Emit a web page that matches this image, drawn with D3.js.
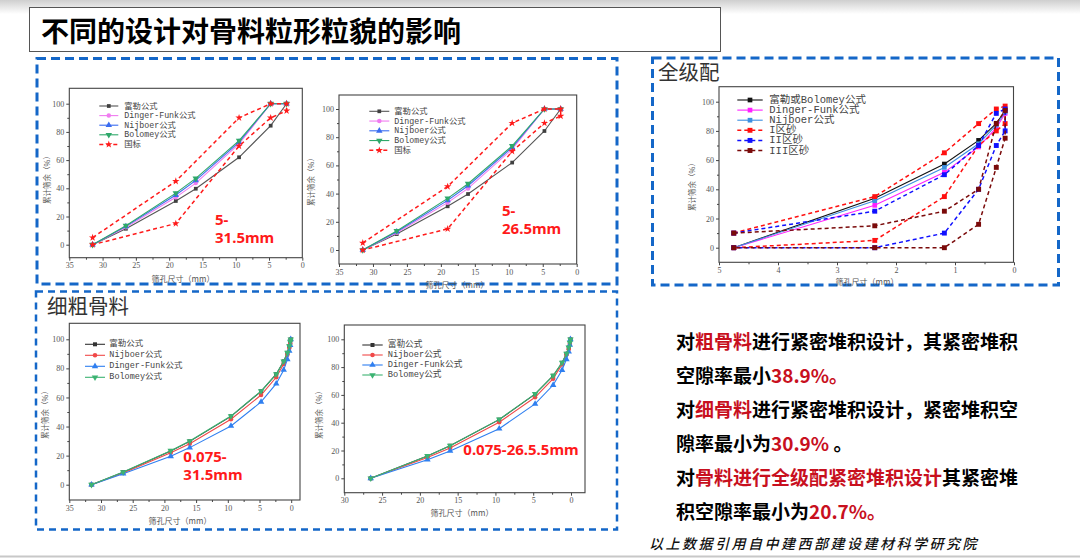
<!DOCTYPE html>
<html><head><meta charset="utf-8">
<script src="https://cdn.jsdelivr.net/npm/d3@7"></script>
<style>body{margin:0;background:#fff} svg{display:block}</style>
</head><body><svg id="c" width="1080" height="558"></svg>
<script>
// ---------------- DATA ----------------
// 粗骨料 5-31.5 / 5-26.5 mm (same values in both panels)
const sieveCoarse = [31.5, 26.5, 19, 16, 9.5, 4.75, 2.36];
const coarseFuller = [0, 11.3, 31, 39.7, 62, 84.4, 100];
const coarseDinger = [0, 12.3, 33.6, 43.7, 71.5, 100, 100];
const coarseNijboer = [0, 13, 35.2, 45.6, 72.8, 100, 100];
const coarseBolomey = [0, 13.5, 36.6, 47, 73.8, 100, 100];
const gbSieve = [31.5, 19, 9.5, 4.75, 2.36, 2.36, 4.75, 9.5, 19, 31.5];
const gbLimits = [5, 45, 90, 100, 100, 95, 90, 70, 15, 0];

// 全级配 (细骨料)
const sieveSand = [4.75, 2.36, 1.18, 0.6, 0.3, 0.15];
const sandFullerBolomey = [0, 33.8, 57.3, 73.5, 85.2, 93.8];
const sandDinger = [0, 29, 51.6, 69, 82, 92];
const sandNijboer = [0, 32.2, 55, 71.2, 84, 93];
const zoneSieve = [4.75, 2.36, 1.18, 0.6, 0.3, 0.15, 0.15, 0.3, 0.6, 1.18, 2.36, 4.75];
const zone1 = [10, 35, 65, 85, 95, 97, 85, 80, 70, 35, 5, 0];
const zone2 = [10, 25, 50, 70, 92, 95, 80, 70, 40, 10, 0, 0];
const zone3 = [10, 15, 25, 40, 85, 94, 75, 55, 16, 0, 0, 0];

// 细粗骨料 0.075-31.5 mm
const sieve315 = [31.5, 26.5, 19, 16, 9.5, 4.75, 2.36, 1.18, 0.6, 0.3, 0.15, 0.075];
const mix315Fuller = [0, 8.6, 23.2, 29.8, 47, 64.2, 76, 84.8, 90.7, 95.3, 98.3, 100];
const mix315Nijboer = [0, 8, 22, 28.2, 45, 61.7, 73.9, 83, 89.4, 94, 97, 100];
const mix315Dinger = [0, 7.6, 19.5, 25.5, 40.4, 56.9, 69.5, 78.9, 86.2, 92, 96, 100];
const mix315Bolomey = [0, 8.7, 23.4, 30, 47.2, 64.4, 76.1, 84.9, 90.8, 95.4, 98.4, 100];

// 细粗骨料 0.075-26.5 mm
const sieve265 = [26.5, 19, 16, 9.5, 4.75, 2.36, 1.18, 0.6, 0.3, 0.15, 0.075];
const mix265Fuller = [0, 16, 23.4, 42.2, 60.5, 73.8, 83.1, 89.6, 94.1, 97.5, 100];
const mix265Nijboer = [0, 14.9, 21.8, 40.3, 58.3, 71.7, 81.8, 89, 92.8, 96.6, 100];
const mix265Dinger = [0, 13.4, 19.7, 35.7, 53.5, 67.1, 77.9, 85.6, 91.1, 95.9, 100];
const mix265Bolomey = [0, 16.1, 23.5, 42.4, 60.7, 73.9, 83.2, 89.7, 94.2, 97.6, 100];

// ticks
const ticksX35 = [35, 30, 25, 20, 15, 10, 5, 0];
const ticksX30 = [30, 25, 20, 15, 10, 5, 0];
const ticksX5 = [5, 4, 3, 2, 1, 0];
const ticksY = [0, 20, 40, 60, 80, 100];

// legend names
const namesCoarse = ["富勒公式", "Dinger-Funk公式", "Nijboer公式", "Bolomey公式", "国标"];
const namesSand = ["富勒或Bolomey公式", "Dinger-Funk公式", "Nijboer公式", "I区砂", "II区砂", "III区砂"];
const namesMix = ["富勒公式", "Nijboer公式", "Dinger-Funk公式", "Bolomey公式"];

// ---------------- DRAW ----------------
const svg = d3.select("#c");
const defs = svg.append("defs");
const grad = defs.append("linearGradient").attr("id","hg").attr("x1",0).attr("y1",0).attr("x2",0).attr("y2",1);
grad.append("stop").attr("offset","0%").attr("stop-color","#cfcfcf");
grad.append("stop").attr("offset","100%").attr("stop-color","#ffffff");
svg.append("rect").attr("x",0).attr("y",0).attr("width",1080).attr("height",14).attr("fill","url(#hg)");

// title
svg.append("rect").attr("x",29.5).attr("y",7.5).attr("width",691).attr("height",44)
  .attr("fill","#fff").attr("stroke","#555").attr("stroke-width",1);
svg.append("text").attr("x",41).attr("y",30).attr("dominant-baseline","central")
  .attr("font-family","'Noto Sans CJK SC'").attr("font-weight",700).attr("font-size",28)
  .attr("fill","#000").text("不同的设计对骨料粒形粒貌的影响");

// dashed boxes
function dbox(x0,y0,x1,y1,w,dash){
  svg.append("rect").attr("x",x0).attr("y",y0).attr("width",x1-x0).attr("height",y1-y0)
    .attr("fill","none").attr("stroke","#1467c8").attr("stroke-width",w).attr("stroke-dasharray",dash);
}
dbox(37,58.5,617,284,3,"9,5");
dbox(652.5,58,1058.5,285,3,"9,5");
dbox(36,291.5,617,529.5,2.5,"7,5");

svg.append("text").attr("x",658).attr("y",71).attr("dominant-baseline","central")
  .attr("font-family","'Noto Sans CJK SC'").attr("font-size",20.5).attr("fill","#333").text("全级配");
svg.append("text").attr("x",47).attr("y",305).attr("dominant-baseline","central")
  .attr("font-family","'Noto Sans CJK SC'").attr("font-size",20.5).attr("fill","#333").text("细粗骨料");

const symDown = { draw(ctx, size){ const s=Math.sqrt(size/ (Math.sqrt(3)/4)) ; const h=s*Math.sqrt(3)/2;
  ctx.moveTo(-s/2,-h/3); ctx.lineTo(s/2,-h/3); ctx.lineTo(0,2*h/3); ctx.closePath(); } };
const symUp = { draw(ctx, size){ const s=Math.sqrt(size/ (Math.sqrt(3)/4)) ; const h=s*Math.sqrt(3)/2;
  ctx.moveTo(-s/2,h/3); ctx.lineTo(s/2,h/3); ctx.lineTo(0,-2*h/3); ctx.closePath(); } };

function chart(cfg){
  const g = svg.append("g");
  const x = d3.scaleLinear().domain(cfg.xRef).range(cfg.xPx);
  const y = d3.scaleLinear().domain([0,100]).range(cfg.yPx);
  const [bx0,by0,bx1,by1] = cfg.box;
  // axes
  const ax = g.append("g").attr("transform",`translate(0,${by1})`)
    .call(d3.axisBottom(x).tickValues(cfg.xTicks).tickSize(3).tickPadding(2).tickFormat(d3.format("")));
  ax.select(".domain").remove();
  const mx = [];
  for(let i=0;i<cfg.xTicks.length-1;i++) mx.push((cfg.xTicks[i]+cfg.xTicks[i+1])/2);
  g.append("g").attr("transform",`translate(0,${by1})`)
    .call(d3.axisBottom(x).tickValues(mx).tickSize(2).tickFormat("")).select(".domain").remove();
  const ay = g.append("g").attr("transform",`translate(${bx0},0)`)
    .call(d3.axisLeft(y).tickValues(ticksY).tickSize(3).tickPadding(2));
  ay.select(".domain").remove();
  g.append("g").attr("transform",`translate(${bx0},0)`)
    .call(d3.axisLeft(y).tickValues([10,30,50,70,90]).tickSize(2).tickFormat("")).select(".domain").remove();
  g.selectAll(".tick line").attr("stroke","#444");
  g.selectAll(".tick text").attr("font-family","'Liberation Serif'").attr("font-size",cfg.tickFs||8).attr("fill","#555");
  g.append("rect").attr("x",bx0).attr("y",by0).attr("width",bx1-bx0).attr("height",by1-by0)
    .attr("fill","none").attr("stroke","#444").attr("stroke-width",1.1);
  // axis titles
  g.append("text").attr("transform",`translate(${cfg.yLab[0]},${cfg.yLab[1]}) rotate(-90)`)
    .attr("text-anchor","middle").attr("dominant-baseline","central")
    .attr("font-family","'Noto Sans CJK SC'").attr("font-size",7.5).attr("fill","#555").text("累计筛余（%）");
  g.append("text").attr("x",cfg.xLab[0]).attr("y",cfg.xLab[1])
    .attr("text-anchor","middle").attr("dominant-baseline","central")
    .attr("font-family","'Noto Sans CJK SC'").attr("font-size",8).attr("fill","#555").text("筛孔尺寸（mm）");
  // series
  const line = d3.line().x(d=>x(d[0])).y(d=>y(d[1]));
  cfg.series.forEach(s=>{
    const pts = s.xs.map((v,i)=>[v,s.ys[i]]);
    g.append("path").attr("d",line(pts)).attr("fill","none").attr("stroke",s.color)
      .attr("stroke-width",s.dash?1.5:1.1).attr("stroke-dasharray",s.dash?"4,3":null);
    g.selectAll(null).data(pts).enter().append("path")
      .attr("transform",d=>`translate(${x(d[0])},${y(d[1])})`)
      .attr("d",d3.symbol().type(s.sym).size(s.size||16)).attr("fill",s.mcolor||s.color);
  });
  // legend
  const L = cfg.legend;
  cfg.series.forEach((s,i)=>{
    const ly = L.y0 + i*L.dy;
    g.append("line").attr("x1",L.x[0]).attr("x2",L.x[1]).attr("y1",ly).attr("y2",ly)
      .attr("stroke",s.color).attr("stroke-width",s.dash?1.5:1.1).attr("stroke-dasharray",s.dash?"4,3":null);
    g.append("path").attr("transform",`translate(${(L.x[0]+L.x[1])/2},${ly})`)
      .attr("d",d3.symbol().type(s.sym).size(s.size||16)).attr("fill",s.mcolor||s.color);
    g.append("text").attr("x",L.tx).attr("y",ly).attr("dominant-baseline","central")
      .attr("font-family","'Liberation Mono','Noto Sans CJK SC'").attr("font-size",L.fs).attr("fill","#444")
      .text(s.name);
  });
  // annotation
  (cfg.notes||[]).forEach(n=>{
    g.append("text").attr("x",n[0]).attr("y",n[1]).attr("dominant-baseline","central")
      .attr("font-family","'Noto Sans','Open Sans'").attr("font-weight",700).attr("font-size",15)
      .attr("fill","#ff1a1a").text(n[2]);
  });
}

const cGray="#404040", cPink="#f07cf0", cBlue="#3a6cf0", cGreen="#2fa86a", cRed="#ff1a1a";
const coarseSeries = [
  {name:namesCoarse[0], xs:sieveCoarse, ys:coarseFuller, color:"#555", mcolor:cGray, sym:d3.symbolSquare, size:14},
  {name:namesCoarse[1], xs:sieveCoarse, ys:coarseDinger, color:cPink, sym:d3.symbolCircle, size:16},
  {name:namesCoarse[2], xs:sieveCoarse, ys:coarseNijboer, color:cBlue, sym:symUp, size:18},
  {name:namesCoarse[3], xs:sieveCoarse, ys:coarseBolomey, color:cGreen, sym:symDown, size:18},
  {name:namesCoarse[4], xs:gbSieve, ys:gbLimits, color:cRed, sym:d3.symbolStar, size:17, dash:true}
];

chart({xRef:[35,0], xPx:[69.3,302.3], yPx:[244.7,103.7], box:[69.3,88.3,302.3,257.7], xTicks:ticksX35,
  yLab:[46,178], xLab:[183,278],
  series:coarseSeries,
  legend:{x:[99.3,118.3], tx:124.3, y0:106, dy:9.6, fs:8.3},
  notes:[[215,218.5,"5-"],[215,236.5,"31.5mm"]]});

chart({xRef:[35,0], xPx:[339,576.7], yPx:[250,109], box:[339,95,576.7,264], xTicks:ticksX35,
  yLab:[310,180], xLab:[457,284],
  series:coarseSeries,
  legend:{x:[369.3,389.3], tx:394.3, y0:111.3, dy:9.75, fs:8.3},
  notes:[[502,209.5,"5-"],[502,228,"26.5mm"]]});

chart({xRef:[5,0], xPx:[719,1014], yPx:[247.7,101.7], box:[719,86.7,1013.5,262.3], xTicks:ticksX5,
  yLab:[691,185], xLab:[867,281.5],
  series:[
    {name:namesSand[0], xs:sieveSand, ys:sandFullerBolomey, color:"#111", sym:d3.symbolSquare, size:22},
    {name:namesSand[1], xs:sieveSand, ys:sandDinger, color:"#ff20ff", sym:d3.symbolSquare, size:22},
    {name:namesSand[2], xs:sieveSand, ys:sandNijboer, color:"#3d8fe0", sym:d3.symbolSquare, size:22},
    {name:namesSand[3], xs:zoneSieve, ys:zone1, color:"#ff1010", sym:d3.symbolSquare, size:24, dash:true},
    {name:namesSand[4], xs:zoneSieve, ys:zone2, color:"#1010ff", sym:d3.symbolSquare, size:24, dash:true},
    {name:namesSand[5], xs:zoneSieve, ys:zone3, color:"#7a0a0a", sym:d3.symbolSquare, size:24, dash:true}
  ],
  legend:{x:[737.3,762.7], tx:769.3, y0:100, dy:10.1, fs:10.5}});

const mixColors = {fuller:"#333", nij:"#f04848", dinger:"#2f7ff0", bol:"#3cb372"};
chart({xRef:[35,0], xPx:[69.3,291.2], yPx:[484.7,339.3], box:[69.3,323.3,300,500], xTicks:ticksX35,
  yLab:[44,413], xLab:[180,520],
  series:[
    {name:namesMix[0], xs:sieve315, ys:mix315Fuller, color:mixColors.fuller, sym:d3.symbolSquare, size:16},
    {name:namesMix[1], xs:sieve315, ys:mix315Nijboer, color:mixColors.nij, sym:d3.symbolCircle, size:16},
    {name:namesMix[2], xs:sieve315, ys:mix315Dinger, color:mixColors.dinger, sym:symUp, size:18},
    {name:namesMix[3], xs:sieve315, ys:mix315Bolomey, color:mixColors.bol, sym:symDown, size:18}
  ],
  legend:{x:[85,105], tx:109.3, y0:344.3, dy:11, fs:8.5},
  notes:[[183.3,455.5,"0.075-"],[183.3,474,"31.5mm"]]});

chart({xRef:[30,0], xPx:[344.3,571], yPx:[478.3,339.3], box:[344.3,325,585,492.7], xTicks:ticksX30,
  yLab:[318.5,413], xLab:[462,512.5],
  series:[
    {name:namesMix[0], xs:sieve265, ys:mix265Fuller, color:mixColors.fuller, sym:d3.symbolSquare, size:16},
    {name:namesMix[1], xs:sieve265, ys:mix265Nijboer, color:mixColors.nij, sym:d3.symbolCircle, size:16},
    {name:namesMix[2], xs:sieve265, ys:mix265Dinger, color:mixColors.dinger, sym:symUp, size:18},
    {name:namesMix[3], xs:sieve265, ys:mix265Bolomey, color:mixColors.bol, sym:symDown, size:18}
  ],
  legend:{x:[362.3,382.7], tx:387.7, y0:345, dy:10, fs:8.7},
  notes:[[463.3,449.3,"0.075-26.5.5mm"]]});

// right side text
const RED="#c8101e";
const paras = [
  [["对","#000"],["粗骨料",RED],["进行紧密堆积设计，其紧密堆积","#000"]],
  [["空隙率最小","#000"],["38.9%。",RED]],
  [["对","#000"],["细骨料",RED],["进行紧密堆积设计，紧密堆积空","#000"]],
  [["隙率最小为","#000"],["30.9%",RED],[" 。","#000"]],
  [["对","#000"],["骨料进行全级配紧密堆积设计",RED],["其紧密堆","#000"]],
  [["积空隙率最小为","#000"],["20.7%。",RED]]
];
const lineY = [339.5, 373.5, 407.5, 441.5, 476, 509.5];
paras.forEach((p,i)=>{
  const t = svg.append("text").attr("x",676).attr("y",lineY[i]).attr("dominant-baseline","central")
    .attr("font-family","'Noto Sans CJK SC'").attr("font-weight",700).attr("font-size",19);
  p.forEach(seg=>t.append("tspan").attr("fill",seg[1]).text(seg[0]));
});
svg.append("text").attr("x",649).attr("y",543).attr("dominant-baseline","central")
  .attr("font-family","'Noto Sans CJK SC'").attr("font-style","italic").attr("font-weight",500)
  .attr("font-size",14).attr("letter-spacing",2.5).attr("fill","#111").text("以上数据引用自中建西部建设建材科学研究院");

svg.append("line").attr("x1",0).attr("x2",1080).attr("y1",556.5).attr("y2",556.5).attr("stroke","#c8c8c8").attr("stroke-width",2);
</script></body></html>
